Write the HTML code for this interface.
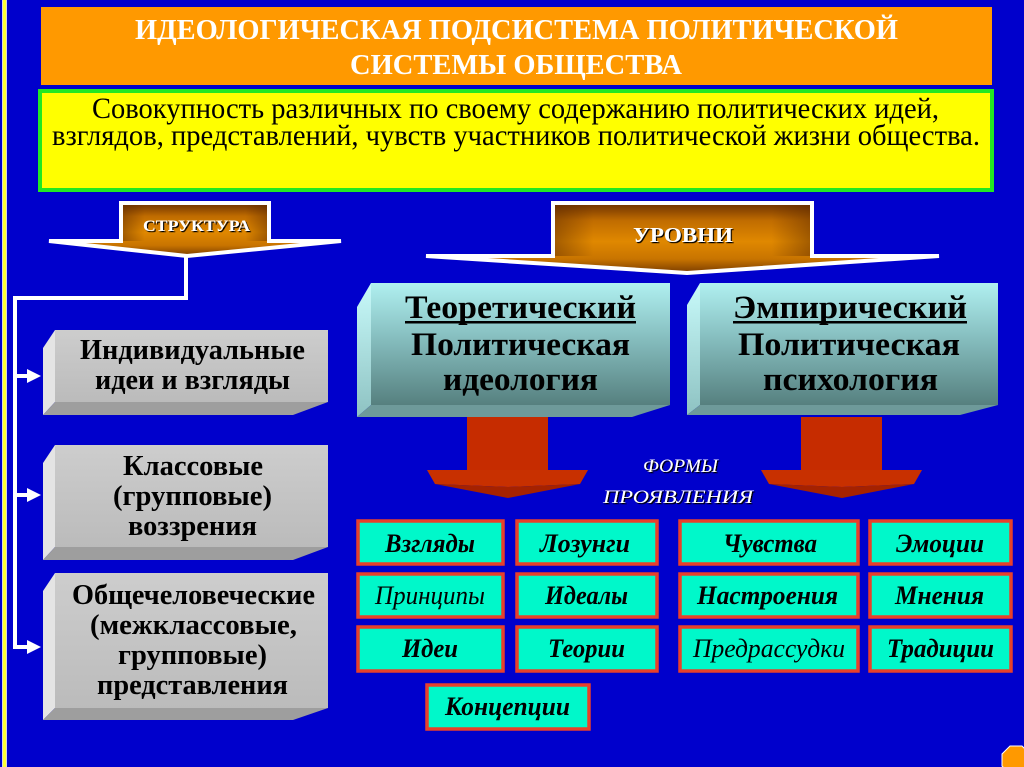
<!DOCTYPE html>
<html><head><meta charset="utf-8"><style>
html,body{margin:0;padding:0;background:#0000CC;}
svg{display:block;}
.s{font-family:"Liberation Serif","DejaVu Serif",serif;}
.m{font-family:"Liberation Mono","DejaVu Sans Mono",monospace;}
</style></head><body>
<svg width="1024" height="767" viewBox="0 0 1024 767" xmlns="http://www.w3.org/2000/svg">
<defs>
<linearGradient id="org" x1="0" y1="0" x2="0" y2="1">
<stop offset="0" stop-color="#6B3000"/><stop offset="0.25" stop-color="#C06C00"/><stop offset="0.55" stop-color="#E08800"/><stop offset="0.8" stop-color="#C87400"/><stop offset="1" stop-color="#7A3C00"/>
</linearGradient>
<linearGradient id="orgh" x1="0" y1="0" x2="1" y2="0">
<stop offset="0" stop-color="#5A2800" stop-opacity="0.45"/><stop offset="0.15" stop-color="#5A2800" stop-opacity="0"/><stop offset="0.85" stop-color="#5A2800" stop-opacity="0"/><stop offset="1" stop-color="#5A2800" stop-opacity="0.45"/>
</linearGradient>
<linearGradient id="cf" x1="0" y1="0" x2="0" y2="1">
<stop offset="0" stop-color="#B0F0F0"/><stop offset="0.45" stop-color="#86BEBF"/><stop offset="1" stop-color="#56807F"/>
</linearGradient>
<linearGradient id="cl" x1="0" y1="0" x2="0" y2="1">
<stop offset="0" stop-color="#C8FAFA"/><stop offset="1" stop-color="#8EC2C2"/>
</linearGradient>
<linearGradient id="gf" x1="0" y1="0" x2="0" y2="1">
<stop offset="0" stop-color="#CDCDCD"/><stop offset="1" stop-color="#BBBBBB"/>
</linearGradient>
<filter id="sh" x="-10%" y="-30%" width="130%" height="160%"><feDropShadow dx="1.2" dy="1.2" stdDeviation="0.3" flood-color="#000"/></filter>
</defs>

<rect width="1024" height="767" fill="#0000CC"/>
<rect x="2" y="0" width="5" height="767" fill="#D8D8D8"/>
<rect x="3" y="0" width="3" height="767" fill="#FFFF33"/>

<!-- title -->
<rect x="41" y="7" width="951" height="78" fill="#FF9900"/>
<text class="s" x="135" y="39" font-size="28" font-weight="bold" fill="#fff" textLength="763" lengthAdjust="spacingAndGlyphs">ИДЕОЛОГИЧЕСКАЯ ПОДСИСТЕМА ПОЛИТИЧЕСКОЙ</text>
<text class="s" x="350" y="74" font-size="28" font-weight="bold" fill="#fff" textLength="332" lengthAdjust="spacingAndGlyphs">СИСТЕМЫ ОБЩЕСТВА</text>

<!-- definition -->
<rect x="40" y="91" width="952" height="99" fill="#FFFF00" stroke="#22E822" stroke-width="4"/>
<text class="s" x="92" y="118" font-size="30" fill="#000" textLength="847" lengthAdjust="spacingAndGlyphs">Совокупность различных по своему содержанию политических идей,</text>
<text class="s" x="52" y="145" font-size="30" fill="#000" textLength="928" lengthAdjust="spacingAndGlyphs">взглядов, представлений, чувств участников политической жизни общества.</text>

<!-- STRUCTURE arrow -->
<polygon points="121,203 269,203 269,241 341,241 187,256 49,241 121,241" fill="url(#org)" stroke="#fff" stroke-width="4" stroke-linejoin="miter"/>
<rect x="123" y="205" width="144" height="36" fill="url(#orgh)"/>
<text class="s" x="143" y="231" font-size="16" font-weight="bold" fill="#fff" filter="url(#sh)" textLength="107" lengthAdjust="spacingAndGlyphs">СТРУКТУРА</text>

<!-- LEVELS arrow -->
<polygon points="553,203 812,203 812,256 939,256 687,273 426,256 553,256" fill="url(#org)" stroke="#fff" stroke-width="4" stroke-linejoin="miter"/>
<rect x="555" y="205" width="255" height="51" fill="url(#orgh)"/>
<text class="s" x="633" y="242" font-size="21" font-weight="bold" fill="#fff" filter="url(#sh)" textLength="100" lengthAdjust="spacingAndGlyphs">УРОВНИ</text>

<!-- connectors -->
<g stroke="#fff" stroke-width="4" fill="none">
<polyline points="186,255 186,298 15,298 15,649"/>
<line x1="14" y1="376" x2="29" y2="376"/>
<line x1="14" y1="495" x2="29" y2="495"/>
<line x1="13" y1="647" x2="29" y2="647"/>
</g>
<g fill="#fff">
<polygon points="27,369 41,376 27,383"/>
<polygon points="27,488 41,495 27,502"/>
<polygon points="27,640 41,647 27,654"/>
</g>

<!-- gray boxes -->
<g>
<polygon points="55,330 43,348 43,415 55,402" fill="#E4E4E4"/>
<polygon points="43,415 293,415 328,402 55,402" fill="#9E9E9E"/>
<rect x="55" y="330" width="273" height="72" fill="url(#gf)"/>
<polygon points="55,445 43,463 43,560 55,547" fill="#E4E4E4"/>
<polygon points="43,560 293,560 328,547 55,547" fill="#9E9E9E"/>
<rect x="55" y="445" width="273" height="102" fill="url(#gf)"/>
<polygon points="55,573 43,591 43,720 55,708" fill="#E4E4E4"/>
<polygon points="43,720 293,720 328,708 55,708" fill="#9E9E9E"/>
<rect x="55" y="573" width="273" height="135" fill="url(#gf)"/>
</g>
<g class="s" font-size="29" font-weight="bold" fill="#000">
<text x="80" y="359" textLength="225" lengthAdjust="spacingAndGlyphs">Индивидуальные</text>
<text x="95" y="389" textLength="195" lengthAdjust="spacingAndGlyphs">идеи и взгляды</text>
<text x="123" y="475" textLength="140" lengthAdjust="spacingAndGlyphs">Классовые</text>
<text x="113" y="505" textLength="159" lengthAdjust="spacingAndGlyphs">(групповые)</text>
<text x="128" y="535" textLength="129" lengthAdjust="spacingAndGlyphs">воззрения</text>
<text x="72" y="604" textLength="243" lengthAdjust="spacingAndGlyphs">Общечеловеческие</text>
<text x="90" y="634" textLength="207" lengthAdjust="spacingAndGlyphs">(межклассовые,</text>
<text x="118" y="664" textLength="149" lengthAdjust="spacingAndGlyphs">групповые)</text>
<text x="97" y="694" textLength="191" lengthAdjust="spacingAndGlyphs">представления</text>
</g>

<!-- level boxes -->
<polygon points="371,283 357,307 357,417 371,405" fill="url(#cl)"/>
<polygon points="357,417 632,417 670,405 371,405" fill="#6E9A9A"/>
<rect x="371" y="283" width="299" height="122" fill="url(#cf)"/>
<polygon points="700,283 687,305 687,415 700,405" fill="url(#cl)"/>
<polygon points="687,415 960,415 998,405 700,405" fill="#6E9A9A"/>
<rect x="700" y="283" width="298" height="122" fill="url(#cf)"/>
<g class="s" font-size="33" font-weight="bold" fill="#000">
<text x="405" y="318" textLength="231" lengthAdjust="spacingAndGlyphs">Теоретический</text>
<text x="411" y="355" textLength="219" lengthAdjust="spacingAndGlyphs">Политическая</text>
<text x="443" y="390" textLength="155" lengthAdjust="spacingAndGlyphs">идеология</text>
<text x="733" y="318" textLength="234" lengthAdjust="spacingAndGlyphs">Эмпирический</text>
<text x="738" y="355" textLength="222" lengthAdjust="spacingAndGlyphs">Политическая</text>
<text x="763" y="390" textLength="175" lengthAdjust="spacingAndGlyphs">психология</text>
</g>
<rect x="405" y="321" width="231" height="2.5" fill="#000"/>
<rect x="733" y="321" width="234" height="2.5" fill="#000"/>

<!-- red arrows -->
<rect x="467" y="417" width="81" height="54" fill="#C62C00"/>
<polygon points="427,470 588,470 580,484 508,487 435,484" fill="#C83000"/>
<polygon points="435,484 508,487 580,484 508,498" fill="#A52200"/>
<rect x="801" y="417" width="81" height="54" fill="#C62C00"/>
<polygon points="761,470 922,470 914,484 842,487 769,484" fill="#C83000"/>
<polygon points="769,484 842,487 914,484 842,498" fill="#A52200"/>

<!-- forms label -->
<g class="s" font-size="19" font-style="italic" fill="#fff" filter="url(#sh)">
<text x="643" y="472" textLength="75" lengthAdjust="spacingAndGlyphs">ФОРМЫ</text>
<text x="603" y="503" textLength="150" lengthAdjust="spacingAndGlyphs">ПРОЯВЛЕНИЯ</text>
</g>

<!-- tiles -->
<g fill="#00F8CA" stroke="#E8402A" stroke-width="3.5">
<rect x="358" y="521" width="145" height="43"/>
<rect x="517" y="521" width="140" height="43"/>
<rect x="680" y="521" width="178" height="43"/>
<rect x="870" y="521" width="141" height="43"/>
<rect x="358" y="574" width="145" height="43"/>
<rect x="517" y="574" width="140" height="43"/>
<rect x="680" y="574" width="178" height="43"/>
<rect x="870" y="574" width="141" height="43"/>
<rect x="358" y="627" width="145" height="44"/>
<rect x="517" y="627" width="140" height="44"/>
<rect x="680" y="627" width="178" height="44"/>
<rect x="870" y="627" width="141" height="44"/>
<rect x="427" y="685" width="162" height="44"/>
</g>
<g class="s" font-size="26" font-style="italic" fill="#000">
<text x="385" y="552" font-weight="bold" textLength="90" lengthAdjust="spacingAndGlyphs">Взгляды</text>
<text x="540" y="552" font-weight="bold" textLength="90" lengthAdjust="spacingAndGlyphs">Лозунги</text>
<text x="723" y="552" font-weight="bold" textLength="94" lengthAdjust="spacingAndGlyphs">Чувства</text>
<text x="896" y="552" font-weight="bold" textLength="88" lengthAdjust="spacingAndGlyphs">Эмоции</text>
<text x="375" y="604" textLength="110" lengthAdjust="spacingAndGlyphs">Принципы</text>
<text x="545" y="604" font-weight="bold" textLength="83" lengthAdjust="spacingAndGlyphs">Идеалы</text>
<text x="697" y="604" font-weight="bold" textLength="141" lengthAdjust="spacingAndGlyphs">Настроения</text>
<text x="895" y="604" font-weight="bold" textLength="89" lengthAdjust="spacingAndGlyphs">Мнения</text>
<text x="402" y="657" font-weight="bold" textLength="56" lengthAdjust="spacingAndGlyphs">Идеи</text>
<text x="548" y="657" font-weight="bold" textLength="77" lengthAdjust="spacingAndGlyphs">Теории</text>
<text x="693" y="657" textLength="152" lengthAdjust="spacingAndGlyphs">Предрассудки</text>
<text x="887" y="657" font-weight="bold" textLength="107" lengthAdjust="spacingAndGlyphs">Традиции</text>
<text x="445" y="715" font-weight="bold" textLength="125" lengthAdjust="spacingAndGlyphs">Концепции</text>
</g>

<!-- corner octagon -->
<polygon points="1010,746 1022,746 1030,754 1030,766 1022,774 1010,774 1002,766 1002,754" fill="#FF9900" stroke="#fff" stroke-width="1"/>
</svg>
</body></html>
